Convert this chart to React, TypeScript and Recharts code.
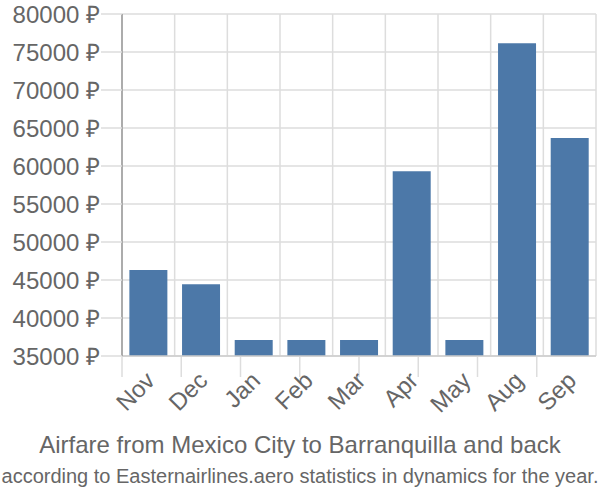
import React from 'react';
import { BarChart, Bar, XAxis, YAxis, CartesianGrid } from 'recharts';

const months = ['Nov', 'Dec', 'Jan', 'Feb', 'Mar', 'Apr', 'May', 'Aug', 'Sep'];
const prices = [46300, 44450, 37100, 37100, 37100, 59300, 37100, 76150, 63700];
const yTicks = [35000, 40000, 45000, 50000, 55000, 60000, 65000, 70000, 75000, 80000];
const boundaryTicks = [0, 1, 2, 3, 4, 5, 6, 7, 8, 9];
const title = 'Airfare from Mexico City to Barranquilla and back';
const subtitle = 'according to Easternairlines.aero statistics in dynamics for the year.';

const data = months.map((m, i) => ({ month: m, price: prices[i] }));

const FONT = '"Liberation Sans", Arial, sans-serif';

const MonthTick = (props: any) => {
  const { x, y, payload } = props;
  const ax = x + 8;
  const ay = y + 18;
  return (
    <text
      x={ax}
      y={ay}
      textAnchor="end"
      fill="#666"
      fontSize={24}
      fontFamily={FONT}
      transform={`rotate(-45, ${ax}, ${ay})`}
    >
      {payload.value}
    </text>
  );
};

const verticalGen = ({ offset }: any) =>
  boundaryTicks.map((t) => offset.left + (t * offset.width) / months.length);

export default function App() {
  return (
    <div style={{ position: 'absolute', left: 0, top: 0, width: 600, height: 500, background: '#fff' }}>
      <BarChart
        width={600}
        height={500}
        data={data}
        margin={{ top: 14, right: 4, left: 0, bottom: 142 }}
        barCategoryGap="14%"
      >
        <CartesianGrid stroke="#ddd" strokeWidth={1.5} verticalCoordinatesGenerator={verticalGen} />
        <XAxis
          xAxisId="grid"
          type="number"
          domain={[0, 9]}
          ticks={boundaryTicks}
          allowDataOverflow
          height={1}
          axisLine={false}
          tickSize={20}
          tickLine={{ stroke: '#ddd', strokeWidth: 1.5 }}
          tickFormatter={() => ''}
        />
        <XAxis
          dataKey="month"
          height={1}
          axisLine={{ stroke: '#ccc', strokeWidth: 1.5 }}
          tickLine={false}
          tick={<MonthTick />}
          interval={0}
        />
        <YAxis
          width={122}
          domain={[35000, 80000]}
          ticks={yTicks}
          interval={0}
          allowDataOverflow
          tickSize={21}
          tickMargin={1}
          axisLine={{ stroke: '#999', strokeWidth: 1.5 }}
          tickLine={{ stroke: '#ddd', strokeWidth: 1.5 }}
          tickFormatter={(v: number) => `${v} ₽`}
          tick={{ fill: '#666', fontSize: 24, fontFamily: FONT }}
        />
        <Bar dataKey="price" fill="#4c78a8" isAnimationActive={false} />
      </BarChart>
      <div
        style={{
          position: 'absolute',
          left: 0,
          top: 430,
          width: 600,
          textAlign: 'center',
          fontFamily: FONT,
          fontSize: 24,
          color: '#666',
          lineHeight: '30px',
        }}
      >
        {title}
      </div>
      <div
        style={{
          position: 'absolute',
          left: 0,
          top: 461,
          width: 600,
          textAlign: 'center',
          fontFamily: '"Liberation Sans Narrow", "Liberation Sans", Arial, sans-serif',
          fontSize: 20,
          color: '#666',
          lineHeight: '30px',
          whiteSpace: 'nowrap',
        }}
      >
        {subtitle}
      </div>
    </div>
  );
}
